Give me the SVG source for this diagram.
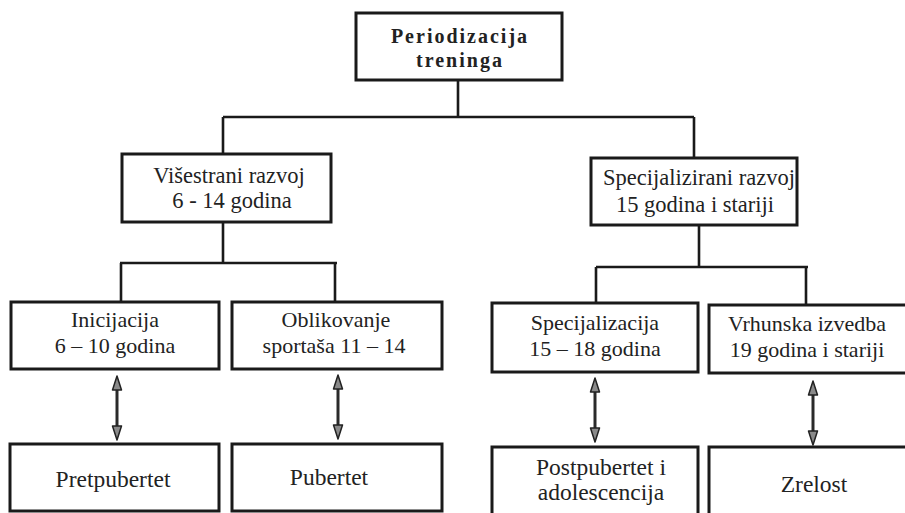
<svg xmlns="http://www.w3.org/2000/svg" width="905" height="513" viewBox="0 0 905 513">
<style>
.box{fill:#fff;stroke:#1a1a1a;stroke-width:3}
.ln{fill:none;stroke:#1a1a1a;stroke-width:2.6}
.ar{fill:none;stroke:#2a2a2a;stroke-width:3}
.hd{fill:#8a8a8a;stroke:#222;stroke-width:1.5;stroke-linejoin:round}
text{font-family:"Liberation Serif","DejaVu Serif","Times New Roman",serif;font-size:22px;fill:#222;text-anchor:middle}
.title{font-weight:bold;font-size:20px;letter-spacing:2px}
.mid{font-size:22.5px}
.bot{font-size:23.5px}
</style>
<defs>
<g id="arr">
<line class="ar" x1="0" y1="12" x2="0" y2="52"/>
<polygon class="hd" points="0,0 4.5,14 -4.5,14"/>
<polygon class="hd" points="0,64 4.5,50 -4.5,50"/>
</g>
</defs>
<rect width="905" height="513" fill="#fff"/>
<g id="connectors">
<path class="ln" d="M458,80 V117 M223,117 H694 M223,117 V154 M694,117 V158"/>
<path class="ln" d="M223,222 V263 M120,263 H337 M121,263 V302 M335,263 V302"/>
<path class="ln" d="M699,225 V267 M596,267 H808 M596,267 V303 M806,267 V305"/>
<use href="#arr" x="117" y="376"/>
<use href="#arr" x="338" y="375"/>
<use href="#arr" x="595" y="378"/>
<use href="#arr" x="813" y="381"/>
</g>
<g id="n-periodizacija">
<rect class="box" x="356" y="13" width="206" height="67"/>
<text class="title" x="460" y="43">Periodizacija</text>
<text class="title" x="460" y="67">treninga</text>
</g>
<g id="n-visestrani">
<rect class="box" x="122" y="154" width="209" height="68"/>
<text class="mid" x="229" y="183">Višestrani razvoj</text>
<text class="mid" x="232" y="208">6 - 14 godina</text>
</g>
<g id="n-specijalizirani">
<rect class="box" x="591" y="158" width="206" height="67"/>
<text class="mid" x="699" y="185">Specijalizirani razvoj</text>
<text class="mid" x="695" y="212">15 godina i stariji</text>
</g>
<g id="n-inicijacija">
<rect class="box" x="11" y="302" width="208" height="67"/>
<text x="115" y="327">Inicijacija</text>
<text x="115" y="353">6 – 10 godina</text>
</g>
<g id="n-oblikovanje">
<rect class="box" x="232" y="302" width="210" height="67"/>
<text x="336" y="327">Oblikovanje</text>
<text x="334" y="353">sportaša 11 – 14</text>
</g>
<g id="n-specijalizacija">
<rect class="box" x="492" y="303" width="206" height="69"/>
<text x="595" y="330">Specijalizacija</text>
<text x="595" y="356">15 – 18 godina</text>
</g>
<g id="n-vrhunska">
<rect class="box" x="709" y="305" width="210" height="68"/>
<text x="807" y="331">Vrhunska izvedba</text>
<text x="807" y="357">19 godina i stariji</text>
</g>
<g id="n-pretpubertet">
<rect class="box" x="10" y="444" width="209" height="67"/>
<text class="bot" x="113" y="487">Pretpubertet</text>
</g>
<g id="n-pubertet">
<rect class="box" x="232" y="444" width="210" height="67"/>
<text class="bot" x="329" y="485">Pubertet</text>
</g>
<g id="n-postpubertet">
<rect class="box" x="492" y="447" width="206" height="80"/>
<text class="bot" x="601" y="475">Postpubertet i</text>
<text class="bot" x="601" y="500">adolescencija</text>
</g>
<g id="n-zrelost">
<rect class="box" x="709" y="447" width="210" height="80"/>
<text class="bot" x="814" y="492">Zrelost</text>
</g>
</svg>
